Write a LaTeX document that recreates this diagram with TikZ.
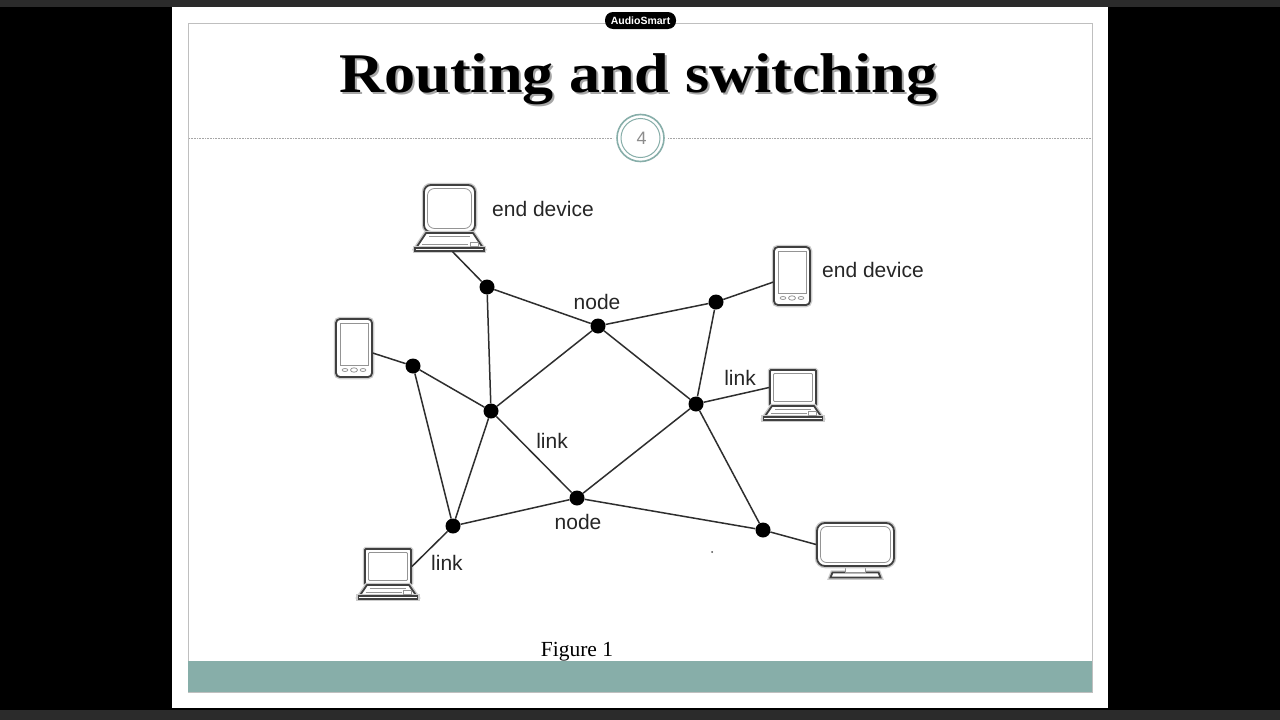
\documentclass[tikz,border=0pt]{standalone}
\usepackage{fontspec}
\setmainfont{Liberation Serif}
\newfontfamily\labelfont{Liberation Sans}
\newfontfamily\titlefont[FakeStretch=1.11]{Liberation Serif Bold}
\usetikzlibrary{arrows.meta,positioning,fit,calc}
\definecolor{slideteal}{HTML}{87AEA9}
\definecolor{screenbar}{HTML}{2B2B2B}
\newcommand{\pxfont}[1]{\fontsize{#1}{#1}\selectfont}

\begin{document}
\begin{tikzpicture}[
        x=1pt, y=-1pt,
        dot/.style={circle, fill=black, inner sep=0pt, minimum size=15pt},
        link/.style={draw=black!82, line width=1.5pt},
        lbl/.style={font=\labelfont\pxfont{21}, text=black!85, inner sep=0pt},
        outline/.style={draw=black!75, line width=1.8pt, preaction={draw=black!20, line width=4.5pt}},
        thinline/.style={draw=black!42, line width=0.8pt},
        pics/laptop/.style n args={5}{code={
            \node[outline, fill=white, rounded corners=#5, minimum width=#1pt, minimum height=#2pt, inner sep=0pt] (-screen) at (0,0) {};
            \node[thinline, rounded corners=#5, minimum width=#1pt-7pt, minimum height=#2pt-7pt, inner sep=0pt] (-glass) at (0,0) {};
            \draw[outline, fill=white, line join=round] ({-#1/2+2},{#2/2+1}) -- ({#1/2-2},{#2/2+1}) -- ({#3/2-1},{#2/2+#4-3}) -- ({-#3/2+1},{#2/2+#4-3}) -- cycle;
            \node[outline, fill=white, minimum width=#3pt, minimum height=2.5pt, inner sep=0pt] (-base) at (0,{#2/2+#4-1.5}) {};
            \draw[thinline] ({-#1/2+5},{#2/2+4}) -- ({#1/2-5},{#2/2+4});
            \draw[thinline] ({-#3/2+7},{#2/2+#4-6.5}) -- ({#3/2-16},{#2/2+#4-6.5}) (#3/2-14,{#2/2+#4-9}) rectangle (#3/2-6,{#2/2+#4-5});
        }},
        pics/phone/.style={code={
            \node[outline, fill=white, rounded corners=4pt, minimum width=36pt, minimum height=58pt, inner sep=0pt] (-body) at (0,0) {};
            \node[thinline, minimum width=28pt, minimum height=42pt, inner sep=0pt] (-glass) at (0,-4) {};
            \foreach \x in {-9,9} {
                \draw[thinline] (\x,22) ellipse (2.8 and 1.5);
            }
            \draw[thinline] (0,22) ellipse (3.5 and 2.2);
        }},
        pics/monitor/.style={code={
            \draw[outline, fill=white] (-23,27) -- (23,27) -- (25,32) -- (-25,32) -- cycle;
            \draw[thinline, fill=white] (-10,20) rectangle (10,27);
            \node[outline, fill=white, rounded corners=8pt, minimum width=77pt, minimum height=43pt, inner sep=0pt] (-body) at (0,-1) {};
            \node[thinline, rounded corners=6pt, minimum width=70pt, minimum height=36pt, inner sep=0pt] (-glass) at (0,-1) {};
        }}
    ]
    \useasboundingbox (0,0) rectangle (1280,720);
    \fill[black] (0,0) rectangle (1280,720);
    \fill[screenbar] (0,0) rectangle (1280,7);
    \fill[screenbar] (0,710) rectangle (1280,720);
    \fill[white] (172,7) rectangle (1108,708);
    \draw[black!25, line width=0.8pt] (188,23) rectangle (1092,692);
    \fill[slideteal] (188,661) rectangle (1092,692);

    \node[rounded corners=8pt, fill=black, text=white, font=\labelfont\bfseries\pxfont{10.5}, minimum width=71pt, minimum height=17pt, inner sep=0pt] (badge) at (640.5,20.5) {AudioSmart};
    \node[font=\titlefont\pxfont{56}, text=black!35, inner sep=0pt] (titleshade) at (640.5,81.5) {Routing and switching};
    \node[font=\titlefont\pxfont{56}, inner sep=0pt] (title) at (638.5,79) {Routing and switching};

    \node[circle, draw=slideteal, line width=1.6pt, fill=white, minimum size=47pt, inner sep=0pt, outer sep=4pt] (pagering) at (640.5,138) {};
    \node[circle, draw=slideteal, line width=1pt, minimum size=39pt, inner sep=0pt, font=\labelfont\pxfont{18}, text=black!45] (pagenum) at (640.5,138) {\hspace{2pt}4};
    \coordinate (rulew) at (189,138);
    \coordinate (rulee) at (1092,138);
    \draw[black!35, densely dotted, line width=0.6pt] (rulew) -- (pagering);
    \draw[black!35, densely dotted, line width=0.6pt] (pagering) -- (rulee);

    \node[dot] (na) at (487,287) {};
    \node[dot] (nb) at (598,326) {};
    \node[dot] (nc) at (716,302) {};
    \node[dot] (nd) at (413,366) {};
    \node[dot] (ne) at (491,411) {};
    \node[dot] (nf) at (696,404) {};
    \node[dot] (ng) at (577,498) {};
    \node[dot] (nh) at (453,526) {};
    \node[dot] (ni) at (763,530) {};
    \node[circle, fill=black!70, inner sep=0pt, minimum size=2pt] (speck) at (712,552) {};

    \pic (laptoptop) at (449.5,208.5) {laptop={51}{47}{69}{19}{7pt}};
    \pic (laptopright) at (793,387.5) {laptop={46}{35}{59}{15}{1pt}};
    \pic (laptopleft) at (388,566.5) {laptop={46}{35}{59}{15}{1pt}};
    \pic (phoneright) at (792,276) {phone};
    \pic (phoneleft) at (354,348) {phone};
    \pic (screen) at (855.5,545.5) {monitor};

    \foreach \a/\b in {na/nb,na/ne,nb/nc,nb/ne,nb/nf,nc/nf,nd/ne,nd/nh,ne/nh,ne/ng,nf/ng,nf/ni,ng/nh,ng/ni} {
        \draw[link] (\a) -- (\b);
    }
    \draw[link] (na) -- ($(laptoptop-base.south)+(3,0)$);
    \draw[link] (nc) -- (phoneright-body.198);
    \draw[link] (nd) -- (phoneleft-body.-15);
    \draw[link] (nf) -- (laptopright-screen.west);
    \draw[link] (nh) -- (laptopleft-screen.east);
    \draw[link] (ni) -- (screen-body.west);

    \node[lbl] (enda) at (543,209) {end device};
    \node[lbl] (endb) at (873,270) {end device};
    \node[lbl] (nodea) at (597,302) {node};
    \node[lbl] (nodeb) at (578,522) {node};
    \node[lbl] (linka) at (740,378) {link};
    \node[lbl] (linkb) at (552,441) {link};
    \node[lbl] (linkc) at (447,563) {link};
    \node[font=\pxfont{21.5}, inner sep=0pt] (figcap) at (577,652) {Figure 1};
\end{tikzpicture}
\end{document}
